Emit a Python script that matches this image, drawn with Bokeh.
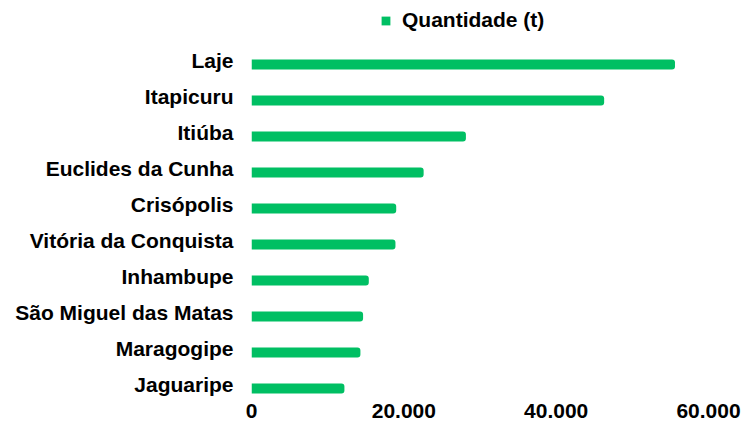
from bokeh.plotting import figure
from bokeh.models import ColumnDataSource, Range1d, FixedTicker, Legend, LegendItem
from bokeh.transform import dodge
from bokeh.embed import file_html
from bokeh.resources import INLINE

categories = ["Laje", "Itapicuru", "Itiúba", "Euclides da Cunha", "Crisópolis",
              "Vitória da Conquista", "Inhambupe", "São Miguel das Matas",
              "Maragogipe", "Jaguaripe"]
quantidade = [55600, 46300, 28150, 22600, 19000, 18900, 15400, 14650, 14300, 12200]
x_ticks = [0, 20000, 40000, 60000]
x_tick_labels = ["0", "20.000", "40.000", "60.000"]
series_name = "Quantidade (t)"

GREEN = "#00BF63"
FONT = "Liberation Sans"
FS = "21px"

n = len(categories)
pos = [n - 1 - i for i in range(n)]
src = ColumnDataSource(dict(cat=categories, q=quantidade, pos=pos))

p = figure(width=742, height=421, output_backend="svg", toolbar_location=None,
           x_range=Range1d(0, 60000), y_range=Range1d(-0.5278, 10.6667),
           min_border_left=251, min_border_right=34, min_border_top=0,
           min_border_bottom=18)

r = p.hbar(y=dodge("pos", -0.111), left=0, right="q",
           height=0.28, source=src,
           fill_color=GREEN, line_color=None, border_radius=(0, 3, 3, 0))

p.outline_line_color = None
p.xgrid.visible = False
p.ygrid.visible = False

for ax in (p.xaxis[0], p.yaxis[0]):
    ax.axis_line_color = None
    ax.major_tick_line_color = None
    ax.minor_tick_line_color = None
    ax.major_tick_out = 0
    ax.major_tick_in = 0
    ax.minor_tick_out = 0
    ax.minor_tick_in = 0
    ax.major_label_text_font = FONT
    ax.major_label_text_font_size = FS
    ax.major_label_text_font_style = "bold"
    ax.major_label_text_color = "#000000"

p.xaxis.ticker = FixedTicker(ticks=x_ticks)
p.xaxis.major_label_overrides = dict(zip(x_ticks, x_tick_labels))
p.xaxis.major_label_standoff = 0
p.xaxis.major_label_text_line_height = 0.8

p.yaxis.ticker = FixedTicker(ticks=pos)
p.yaxis.major_label_overrides = dict(zip(pos, categories))
p.yaxis.major_label_standoff = 18

legend = Legend(items=[LegendItem(label=series_name, renderers=[r])],
                location=(129, 371), glyph_width=11, glyph_height=11,
                label_standoff=11, padding=0, margin=0, spacing=0,
                border_line_color=None, background_fill_alpha=0,
                label_text_font=FONT, label_text_font_size=FS,
                label_text_font_style="bold", label_text_color="#000000")
p.add_layout(legend, "center")

open("out.html", "w").write(file_html(p, INLINE))
